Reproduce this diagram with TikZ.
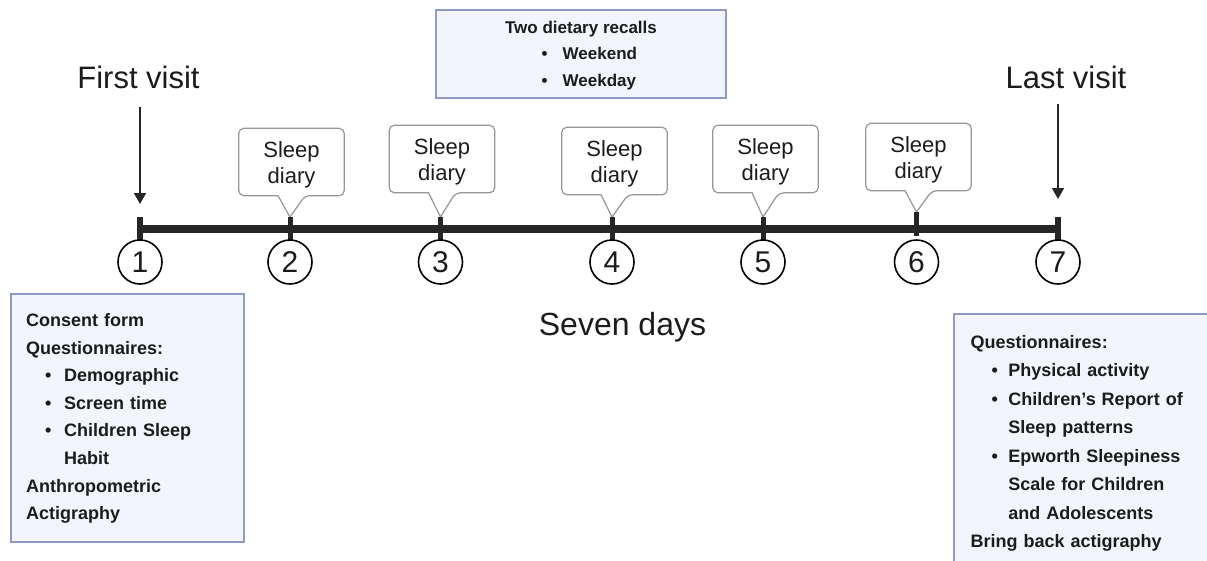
\documentclass[tikz,border=0pt]{standalone}
\usepackage{fontspec}
\setmainfont{Liberation Sans}
\usetikzlibrary{calc,arrows.meta}
\definecolor{boxfill}{RGB}{242,245,251}
\definecolor{boxline}{RGB}{141,156,198}
\definecolor{calline}{RGB}{150,150,150}
\definecolor{ink}{RGB}{28,28,28}
\definecolor{axis}{RGB}{38,38,38}
\newcommand{\lbul}[1]{\hspace*{19pt}\makebox[19pt][l]{\textbullet}#1}
\newcommand{\rbul}[1]{\hspace*{21pt}\makebox[16.7pt][l]{\textbullet}#1}
\newcommand{\tbul}[1]{\makebox[21pt][l]{\textbullet}#1}
\begin{document}
\begin{tikzpicture}[x=1pt,y=-1pt,
  infobox/.style={draw=boxline, fill=boxfill, line width=2pt, inner sep=0pt, anchor=north west},
  boxtext/.style={anchor=base west, inner sep=0pt, text width=235pt, align=left, text=ink},
  bigtext/.style={font=\fontsize{31}{36}\selectfont, text=ink, inner sep=0pt, anchor=base},
  daycirc/.style={circle, draw=black, line width=1.6pt, minimum size=44pt, inner sep=0pt, font=\fontsize{30}{30}\selectfont, fill=white, text=ink},
  sdnode/.style={minimum width=105pt, minimum height=67pt, inner sep=0pt, align=center, font=\fontsize{22}{26}\selectfont, text=ink},
  callout/.style={draw=calline, fill=white, line width=1.2pt},
  timeline/.style={line width=8pt, draw=axis},
  endtick/.style={line width=6pt, draw=axis},
  midtick/.style={line width=5pt, draw=axis},
  visitarrow/.style={line width=1.6pt, draw=axis, -{Triangle[length=11pt,width=12pt]}}
]
\useasboundingbox (0,0) rectangle (1207,560);
\clip (0,0) rectangle (1207,560);
\fill[white] (0,0) rectangle (1207,560);

% timeline coordinates
\coordinate (t1) at (140,228.5);
\coordinate (t2) at (290,228.5);
\coordinate (t3) at (440.5,228.5);
\coordinate (t4) at (612,228.5);
\coordinate (t5) at (763,228.5);
\coordinate (t6) at (916.5,228.5);
\coordinate (t7) at (1058,228.5);

% sleep diary callouts
\foreach \i/\bx/\tp/\ty in {2/291.5/128/217, 3/442/125/217, 4/614.5/127/217, 5/765.5/125/217, 6/918.5/123/212}{
  \node[sdnode] (sd\i) at (\bx,\tp+34) {};
  \draw[callout, rounded corners=5pt]
    ($(sd\i.south)+(-13.5,0)$) -- (sd\i.south west) -- (sd\i.north west) -- (sd\i.north east) -- (sd\i.south east) -- ($(sd\i.south)+(13.5,0)$)
    [sharp corners] -- ($(t\i)+(0,\ty-228.5)$) -- cycle;
  \node[sdnode] (sdt\i) at ([yshift=-3pt]sd\i.center) {Sleep\\diary};
}

% timeline and ticks
\draw[timeline] (t1) -- (t7);
\draw[endtick] ($(t1)+(0,-11.5)$) -- ($(t1)+(0,12.5)$);
\draw[endtick] ($(t7)+(0,-11.5)$) -- ($(t7)+(0,12.5)$);
\foreach \i in {2,3,4,5}{
  \draw[midtick] ($(t\i)+(0,-11.5)$) -- ($(t\i)+(0,11.5)$);
}
\draw[midtick] ($(t6)+(0,-16.5)$) -- ($(t6)+(0,7)$);

% day circles
\foreach \i in {1,...,7}{
  \node[daycirc] (c\i) at ($(t\i)+(0,33.5)$) {\i};
}

% visit labels and arrows
\node[bigtext] (fv) at (138.5,88) {First visit};
\node[bigtext] (lv) at (1066,88) {Last visit};
\coordinate (a1s) at (140,107);
\coordinate (a1e) at (140,204);
\coordinate (a7s) at (1058,104);
\coordinate (a7e) at (1058,199);
\draw[visitarrow] (a1s) -- (a1e);
\draw[visitarrow] (a7s) -- (a7e);

% seven days
\node[bigtext, font=\fontsize{32}{36}\selectfont] (sevendays) at (622.5,335) {Seven days};

% top box
\node[infobox, minimum width=290pt, minimum height=88pt] (topbox) at (435,9) {};
\node[anchor=base, inner sep=0pt, text=ink, font=\bfseries\fontsize{17}{26.5}\selectfont] (dtitle) at (581,33) {Two dietary recalls};
\node[boxtext, text width=160pt, font=\bfseries\fontsize{17}{26.5}\selectfont] (dlist) at (541.5,59.5) {\tbul{Weekend}\\\tbul{Weekday}};

% left box
\node[infobox, minimum width=233pt, minimum height=248pt] (lbox) at (10,293) {};
\node[boxtext, font=\bfseries\fontsize{18}{27.6}\selectfont] (ltext) at (26,326.5)
  {Consent form\\Questionnaires:\\\lbul{Demographic}\\\lbul{Screen time}\\\lbul{Children Sleep}\\\hspace*{38pt}Habit\\Anthropometric\\Actigraphy};

% right box
\node[infobox, minimum width=270pt, minimum height=270pt] (rbox) at (953,313) {};
\node[boxtext, font=\bfseries\fontsize{18}{28.5}\selectfont] (rtext) at (970.5,348)
  {Questionnaires:\\\rbul{Physical activity}\\\rbul{Children's Report of}\\\hspace*{37.7pt}Sleep patterns\\\rbul{Epworth Sleepiness}\\\hspace*{37.7pt}Scale for Children\\\hspace*{37.7pt}and Adolescents\\Bring back actigraphy};
\end{tikzpicture}
\end{document}
